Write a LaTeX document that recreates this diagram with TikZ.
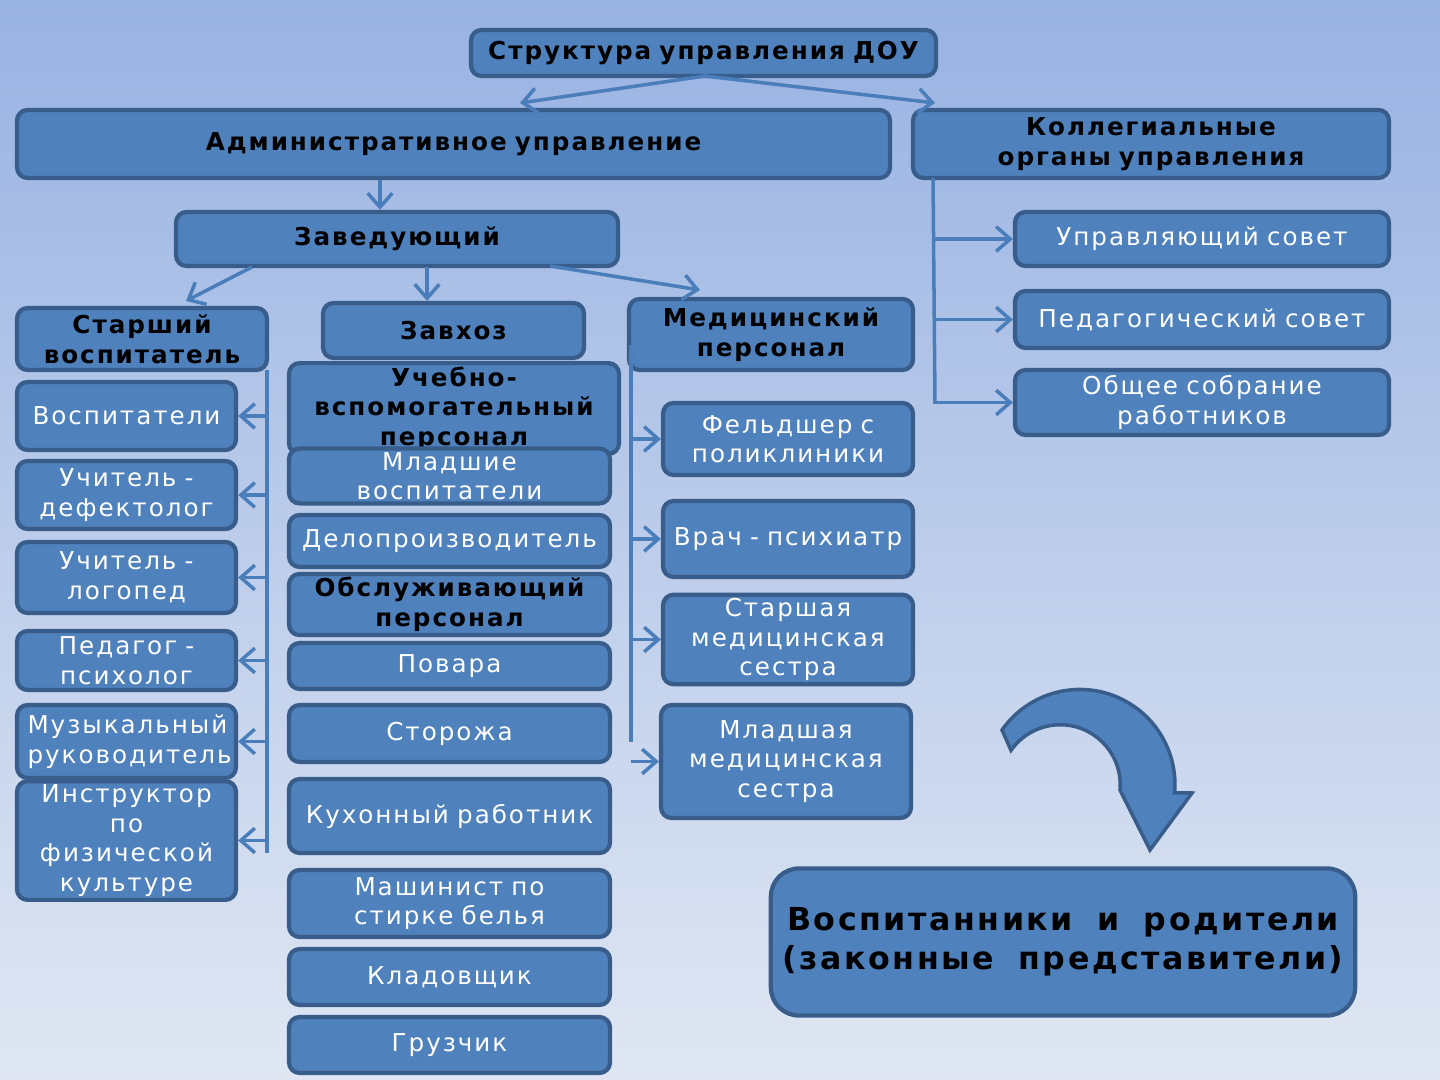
\documentclass[tikz,border=0pt]{standalone}
\usepackage{fontspec}
\setmainfont[LetterSpace=8,WordSpace=1.8]{DejaVu Sans}
\usetikzlibrary{arrows.meta}
\definecolor{bgtop}{RGB}{152,178,226}
\definecolor{bgbot}{RGB}{224,231,243}
\definecolor{boxfill}{RGB}{79,129,189}
\definecolor{boxline}{RGB}{56,93,138}
\definecolor{wire}{RGB}{74,126,187}
\tikzset{
  box/.style={draw=boxline, line width=1.2pt, fill=boxfill, rounded corners=3pt,
    align=center, inner sep=1pt, font=\fontsize{7}{8.4}\selectfont},
  head/.style={box, text=black, font=\fontsize{7}{8.4}\selectfont\bfseries},
  staff/.style={box, text=white},
  wirearrow/.style={draw=wire, line width=1pt, ->, >={Straight Barb[length=4pt,width=7pt]}},
  wireline/.style={draw=wire, line width=1pt}
}
% box from pixel corners
\newcommand\pbox[7]{%
  \pgfmathsetmacro\bcx{(#3+#5)/2}\pgfmathsetmacro\bcy{(#4+#6)/2}%
  \pgfmathsetmacro\bw{(#5-#3)*0.01}\pgfmathsetmacro\bh{(#6-#4)*0.01}%
  \node[#1, minimum width=\bw cm, minimum height=\bh cm, text width=\bw cm-6pt] (#2) at (\bcx,\bcy) {#7};}
\begin{document}
\begin{tikzpicture}[x=0.01cm, y=-0.01cm]
\shade[top color=bgtop, bottom color=bgbot] (0,0) rectangle (1440,1080);
\useasboundingbox (0,0) rectangle (1440,1080);

% headers
\pbox{head}{title}{471}{30}{936}{76}{Структура управления ДОУ}
\pbox{head}{admin}{17}{110}{890}{178}{Административное управление}
\pbox{head}{coll}{913}{110}{1389}{178}{Коллегиальные органы управления}
\pbox{head}{zav}{176}{212}{618}{266}{Заведующий}
\pbox{head}{starsh}{17}{308}{267}{370}{Старший воспитатель}
\pbox{head}{zavhoz}{323}{303}{584}{358}{Завхоз}
\pbox{head}{med}{629}{299}{913}{370}{Медицинский персонал}

% collegial bodies
\pbox{staff}{sovet}{1015}{212}{1389}{266}{Управляющий совет}
\pbox{staff}{pedsov}{1015}{291}{1389}{348}{Педагогический совет}
\pbox{staff}{sobr}{1015}{370}{1389}{435}{Общее собрание работников}

% pedagogues
\pbox{staff}{vosp}{17}{382}{236}{450}{Воспитатели}
\pbox{staff}{defekt}{17}{461}{236}{529}{Учитель - дефектолог}
\pbox{staff}{logop}{17}{542}{236}{613}{Учитель - логопед}
\pbox{staff}{psih}{17}{631}{236}{690}{Педагог - психолог}
\pbox{staff}{muz}{17}{705}{236}{778}{Музыкальный руководитель}
\pbox{staff}{instr}{17}{790}{236}{891}{Инструктор по физической культуре}

% support staff
\pbox{head}{uchvsp}{289}{378}{619}{439}{Учебно-вспомогательный персонал}
\pbox{staff}{mlvosp}{289}{450}{610}{502}{Младшие воспитатели}
\pbox{staff}{delo}{289}{515}{610}{567}{Делопроизводитель}
\pbox{head}{obsl}{289}{578}{610}{631}{Обслуживающий персонал}
\pbox{staff}{povar}{289}{643}{610}{689}{Повара}
\pbox{staff}{storozh}{289}{705}{610}{762}{Сторожа}
\pbox{staff}{kuhn}{289}{779}{610}{853}{Кухонный работник}
\pbox{staff}{mash}{289}{870}{610}{937}{Машинист по стирке белья}
\pbox{staff}{klad}{289}{949}{610}{1005}{Кладовщик}
\pbox{staff}{gruz}{289}{1017}{610}{1073}{Грузчик}

% medical staff
\pbox{staff}{feld}{663}{403}{913}{475}{Фельдшер с поликлиники}
\pbox{staff}{vrach}{663}{501}{913}{577}{Врач - психиатр}
\pbox{staff}{stms}{663}{597}{913}{682}{Старшая медицинская сестра}
\pbox{staff}{mlms}{661}{705}{911}{818}{Младшая медицинская сестра}

\node[head, minimum width=5.84cm, minimum height=1.47cm, rounded corners=8pt,
  font=\fontsize{9}{11}\selectfont\bfseries] (pupils) at (1063,942)
  {Воспитанники и родители\\(законные представители)};

% circular arrow
\fill[boxfill, draw=boxline, line width=1pt] (1002,730) arc[start angle=145, end angle=-5, radius=0.95cm]
  -- (1192,793) -- (1150,850) -- (1120,790)
  arc[start angle=-5, end angle=145, radius=0.6cm] -- cycle;

% connectors
\coordinate (tb) at (705,76);
\draw[wirearrow] (tb) -- (520,103);
\draw[wirearrow] (tb) -- (935,103);
\draw[wirearrow] (admin.south -| 380,0) -- (zav.north -| 380,0);
\draw[wirearrow] (252,267) -- (186,301);
\draw[wirearrow] (427,267) -- (427,301);
\draw[wirearrow] (550,266) -- (700,290);

\coordinate (ctop) at (933,178);
\coordinate (cbot) at (935,404);
\draw[wireline] (ctop) -- (cbot);
\foreach \n in {sovet,pedsov,sobr}
  \draw[wirearrow] (\n.west -| cbot) -- (\n.west);

\coordinate (ltop) at (267,370);
\coordinate (lbot) at (267,853);
\draw[wireline] (ltop) -- (lbot);
\foreach \n in {vosp,defekt,logop,psih,muz,instr}
  \draw[wirearrow] (\n.east -| lbot) -- (\n.east);

\coordinate (mtop) at (631,345);
\coordinate (mbot) at (631,742);
\draw[wireline] (mtop) -- (mbot);
\foreach \n in {feld,vrach,stms,mlms}
  \draw[wirearrow] (\n.west -| mbot) -- (\n.west);
\end{tikzpicture}
\end{document}
